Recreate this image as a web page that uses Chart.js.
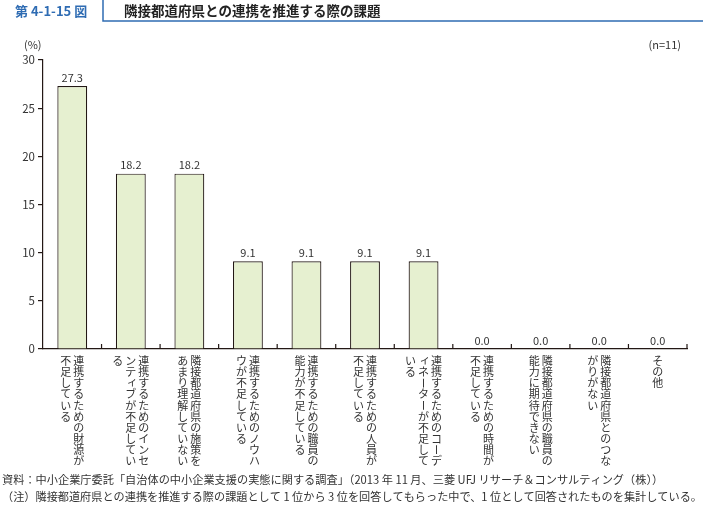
<!DOCTYPE html>
<html lang="ja">
<head>
<meta charset="UTF-8" />
<title>隣接都道府県との連携を推進する際の課題</title>
<style>
  html, body { margin: 0; padding: 0; background: #fff; }
  #wrap { width: 703px; height: 505px; position: relative; }
</style>
</head>
<body>
<div id="wrap"><canvas id="chart" width="703" height="505"></canvas></div>
<script src="https://cdn.jsdelivr.net/npm/chart.js"></script>
<script>
// 縦書きラベル（右の列から順に）
const categories = [
  ["連携するための財源が", "不足している"],
  ["連携するためのインセ", "ンティブが不足してい", "る"],
  ["隣接都道府県の施策を", "あまり理解していない"],
  ["連携するためのノウハ", "ウが不足している"],
  ["連携するための職員の", "能力が不足している"],
  ["連携するための人員が", "不足している"],
  ["連携するためのコーデ", "ィネーターが不足して", "いる"],
  ["連携するための時間が", "不足している"],
  ["隣接都道府県の職員の", "能力に期待できない"],
  ["隣接都道府県とのつな", "がりがない"],
  ["その他"]
];
const values = [27.3, 18.2, 18.2, 9.1, 9.1, 9.1, 9.1, 0.0, 0.0, 0.0, 0.0];
const yTicks = [0, 5, 10, 15, 20, 25, 30];

const figNo = "第 4-1-15 図";
const title = "隣接都道府県との連携を推進する際の課題";
const unitLabel = "(%)";
const nLabel = "(n=11)";
const notes = [
  "資料：中小企業庁委託「自治体の中小企業支援の実態に関する調査」（2013 年 11 月、三菱 UFJ リサーチ＆コンサルティング（株））",
  "（注）隣接都道府県との連携を推進する際の課題として 1 位から 3 位を回答してもらった中で、1 位として回答されたものを集計している。"
];

const FONT = '"Noto Sans CJK JP", "Noto Sans", sans-serif';
const TEXT = '#333';
const AXIS = '#231815';
const BLUE = '#2f6cb3';

const decor = {
  id: 'decor',
  afterDraw(chart) {
    const ctx = chart.ctx;
    const area = chart.chartArea;
    const xs = chart.scales.x;
    const meta = chart.getDatasetMeta(0);
    ctx.save();

    // 見出し
    ctx.strokeStyle = BLUE;
    ctx.lineWidth = 1.5;
    ctx.beginPath();
    ctx.moveTo(103, 0);
    ctx.lineTo(103, 21);
    ctx.lineTo(703, 21);
    ctx.stroke();
    ctx.textBaseline = 'middle';
    ctx.textAlign = 'left';
    ctx.fillStyle = BLUE;
    ctx.font = 'bold 13px ' + FONT;
    ctx.fillText(figNo, 15, 11);
    ctx.fillStyle = '#222';
    ctx.font = 'bold 13.5px ' + FONT;
    ctx.fillText(title, 124, 11);

    // 単位・n
    ctx.fillStyle = TEXT;
    ctx.font = '11px ' + FONT;
    ctx.fillText(unitLabel, 24, 45);
    ctx.textAlign = 'right';
    ctx.fillText(nLabel, 681, 45);

    // x軸の目盛（内向き）
    const step = xs.width / categories.length;
    ctx.strokeStyle = AXIS;
    ctx.lineWidth = 1.2;
    ctx.beginPath();
    for (let i = 0; i < categories.length; i++) {
      const bx = xs.getPixelForValue(i) + step / 2;
      ctx.moveTo(bx, area.bottom);
      ctx.lineTo(bx, area.bottom - 5);
    }
    ctx.stroke();

    // 値ラベル
    ctx.textAlign = 'center';
    ctx.textBaseline = 'bottom';
    ctx.font = '11px ' + FONT;
    ctx.fillStyle = TEXT;
    meta.data.forEach((bar, i) => {
      ctx.fillText(values[i].toFixed(1), bar.x, bar.y - 3);
    });

    // 縦書きのカテゴリ名
    const colGap = 13;
    const pitch = 11.1;
    const small = 'ァィゥェォッャュョ';
    ctx.textBaseline = 'middle';
    ctx.font = '11px ' + FONT;
    categories.forEach((cols, i) => {
      const cx = xs.getPixelForValue(i);
      cols.forEach((col, j) => {
        const x = cx + (cols.length - 1) / 2 * colGap - j * colGap;
        Array.from(col).forEach((ch, k) => {
          const y = area.bottom + 12 + k * pitch;
          if (ch === 'ー') {
            ctx.save();
            ctx.translate(x, y);
            ctx.rotate(Math.PI / 2);
            ctx.fillText(ch, 0, 0);
            ctx.restore();
          } else if (small.includes(ch)) {
            ctx.fillText(ch, x + 1.5, y - 1.5);
          } else {
            ctx.fillText(ch, x, y);
          }
        });
      });
    });

    // 注記
    ctx.textAlign = 'left';
    ctx.font = '11.2px ' + FONT;
    ctx.fillText(notes[0], 2, 480, 699);
    ctx.fillText(notes[1], 2, 497, 700);
    ctx.restore();
  }
};

new Chart(document.getElementById('chart'), {
  type: 'bar',
  data: {
    labels: categories,
    datasets: [{
      data: values,
      backgroundColor: '#e6f0d0',
      borderColor: AXIS,
      borderWidth: 1.2,
      borderSkipped: 'bottom',
      barPercentage: 0.51,
      categoryPercentage: 1.0
    }]
  },
  options: {
    responsive: false,
    animation: false,
    layout: { padding: { left: 0, top: 60, right: 16, bottom: 156 } },
    plugins: { legend: { display: false }, tooltip: { enabled: false } },
    scales: {
      x: {
        offset: true,
        grid: { display: false },
        border: { display: true, color: AXIS, width: 1.2 },
        ticks: { display: false },
        afterFit(s) { s.height = 0; }
      },
      y: {
        min: 0,
        max: 30,
        afterBuildTicks(s) { s.ticks = yTicks.map(v => ({ value: v })); },
        grid: { drawOnChartArea: false, drawTicks: true, tickLength: 5, color: AXIS, lineWidth: 1.2 },
        border: { display: true, color: AXIS, width: 1.2 },
        ticks: { color: TEXT, font: { family: FONT, size: 11.5 }, padding: 3 },
        afterFit(s) { s.width = 43; }
      }
    }
  },
  plugins: [decor]
});
</script>
</body>
</html>
